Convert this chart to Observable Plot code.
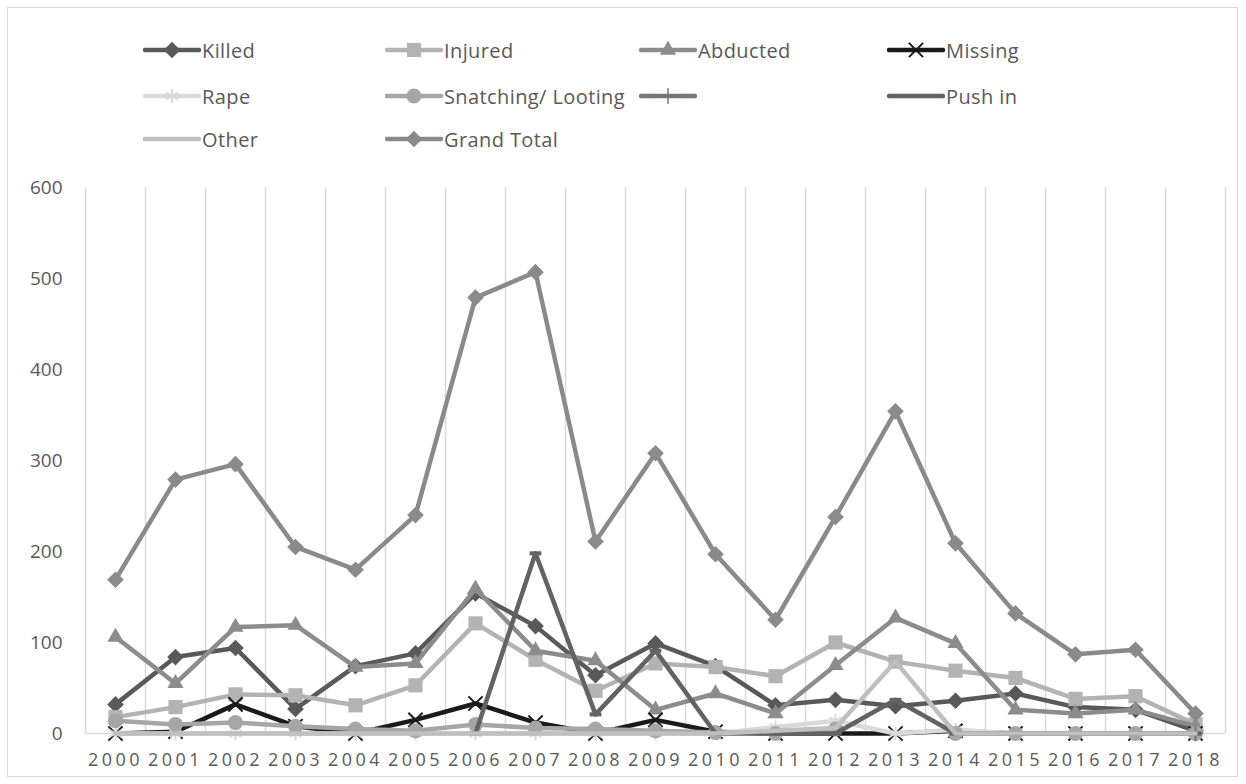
<!DOCTYPE html>
<html><head><meta charset="utf-8">
<script src="https://cdn.jsdelivr.net/npm/d3@7"></script>
<script src="https://cdn.jsdelivr.net/npm/@observablehq/plot@0.6"></script>
<style>
html,body{margin:0;padding:0;background:#fff;}
body{width:1246px;height:784px;position:relative;overflow:hidden;font-family:"Open Sans",sans-serif;}
#frame{position:absolute;left:7px;top:7px;width:1231px;height:770px;border:1px solid #d9d9d9;box-sizing:border-box;}
#legend{position:absolute;left:0;top:0;width:1246px;height:160px;}
.item{position:absolute;display:flex;align-items:center;height:26px;font-size:20px;letter-spacing:0.4px;color:#595959;white-space:nowrap;}
.item svg{display:block;margin-right:1px;}
#chart{position:absolute;left:0;top:160px;}
#chart g[aria-label="x-axis tick label"] text{letter-spacing:3.5px;}
</style></head><body>
<div id="frame"></div>
<div id="legend"></div>
<div id="chart"></div>
<script>
const years = [2000,2001,2002,2003,2004,2005,2006,2007,2008,2009,2010,2011,2012,2013,2014,2015,2016,2017,2018];
const killed    = [32, 84, 94, 27, 74, 88, 154, 118, 64, 99, 74, 31, 37, 30, 36, 44, 29, 26, 3];
const injured   = [18, 29, 43, 42, 31, 53, 121, 81, 47, 77, 73, 63, 100, 79, 69, 61, 38, 41, 10];
const abducted  = [106, 55, 117, 119, 73, 77, 159, 91, 80, 26, 44, 22, 75, 127, 99, 26, 22, 26, 8];
const missing   = [0, 2, 32, 8, 0, 15, 33, 12, 0, 15, 2, 0, 0, 0, 3, 0, 0, 0, 0];
const rape      = [0, 0, 0, 0, 0, 0, 0, 0, 0, 0, 0, 7, 14, 0, 4, 0, 0, 0, 0];
const snatching = [14, 10, 12, 8, 5, 3, 10, 6, 5, 3, 1, 0, 5, null, 0, 0, 0, 0, 0];
const unnamed   = [null, null, null, null, null, null, null, null, null, null, null, null, null, null, null, null, null, null, 0];
const pushIn    = [null, null, null, null, null, null, 0, 198, 21, 91, 0, 0, 0, 37, 0, 0, 0, 0, 0];
const other     = [0, 0, 0, 0, 0, 0, 0, 0, 0, 0, 0, 3, 6, 79, 0, 0, 0, 0, 0];
const grandTotal= [169, 279, 296, 205, 180, 240, 479, 507, 211, 308, 197, 125, 238, 354, 209, 132, 87, 92, 22];
const yTicks = [0, 100, 200, 300, 400, 500, 600];

const dash = {draw(ctx, size){ const w = Math.sqrt(size) * 0.95, h = 4; ctx.rect(-w/2, -h/2, w, h); }};

const series = [
  {name: "Killed", values: killed, color: "#595959", symbol: d3.symbolDiamond2, r: 7.5, filled: true},
  {name: "Injured", values: injured, color: "#b3b3b3", symbol: d3.symbolSquare, r: 8, filled: true},
  {name: "Abducted", values: abducted, color: "#8c8c8c", symbol: d3.symbolTriangle, r: 6, filled: true},
  {name: "Missing", values: missing, color: "#1a1a1a", symbol: d3.symbolTimes, r: 6.5, filled: false},
  {name: "Rape", values: rape, color: "#d9d9d9", symbol: d3.symbolAsterisk, r: 6.5, filled: false},
  {name: "Snatching/ Looting", values: snatching, color: "#a6a6a6", symbol: d3.symbolCircle, r: 7.5, filled: true},
  {name: "", values: unnamed, color: "#767676", symbol: d3.symbolPlus, r: 5, filled: false},
  {name: "Push in", values: pushIn, color: "#636363", symbol: dash, r: 7, filled: true},
  {name: "Other", values: other, color: "#bfbfbf", symbol: null},
  {name: "Grand Total", values: grandTotal, color: "#8a8a8a", symbol: d3.symbolDiamond2, r: 7.5, filled: true}
];

const rows = series.flatMap((s, k) => years.map((yr, i) => ({series: s.name, k, year: yr, value: s.values[i]})));
const edges = [years[0] - 0.5, ...years.map(y => y + 0.5)];

const marks = [
  Plot.ruleX(edges, {stroke: "#d9d9d9", strokeWidth: 1.5}),
  Plot.ruleY([0], {stroke: "#d9d9d9", strokeWidth: 1.5}),
  Plot.axisX({ticks: years, tickFormat: d => String(d), tickSize: 0, tickPadding: 20, fill: "#595959", fontSize: 18, label: null}),
  Plot.axisY({ticks: yTicks, tickSize: 0, tickPadding: 23, fill: "#595959", fontSize: 19, label: null})
];
series.forEach((s, k) => {
  const data = rows.filter(d => d.k === k);
  marks.push(Plot.line(data, {x: "year", y: "value", stroke: s.color, strokeWidth: 4.5, strokeLinejoin: "round", strokeLinecap: "round"}));
  if (s.symbol) {
    const pts = data.filter(d => d.value != null);
    marks.push(Plot.dot(pts, {x: "year", y: "value", symbol: () => s.symbol, r: s.r,
      fill: s.filled ? s.color : "none", stroke: s.filled ? "none" : s.color, strokeWidth: s.filled ? 0 : 2}));
  }
});

const chart = Plot.plot({
  width: 1246, height: 615,
  marginTop: 27, marginBottom: 42, marginLeft: 85, marginRight: 21,
  x: {type: "linear", domain: [edges[0], edges[edges.length - 1]], axis: null, label: null},
  y: {domain: [0, 600], axis: null, label: null},
  symbol: {type: "identity"},
  style: {fontFamily: "'Open Sans', sans-serif", fontSize: "19px", color: "#595959", background: "transparent"},
  marks
});
document.getElementById("chart").appendChild(chart);

// Legend
const cols = [143, 385, 639, 887];
const rowsY = [50, 96, 139];
const leg = d3.select("#legend");
series.forEach((s, i) => {
  const c = i % 4, rr = Math.floor(i / 4);
  const it = leg.append("div").attr("class", "item").style("left", cols[c] + "px").style("top", (rowsY[rr] - 13) + "px");
  const sv = it.append("svg").attr("width", 58).attr("height", 26);
  sv.append("line").attr("x1", 2).attr("x2", 56).attr("y1", 13).attr("y2", 13)
    .attr("stroke", s.color).attr("stroke-width", 4.5).attr("stroke-linecap", "round");
  if (s.symbol) {
    const p = sv.append("path").attr("transform", "translate(29,13)")
      .attr("d", d3.symbol(s.symbol, Math.PI * s.r * s.r)());
    if (s.filled) p.attr("fill", s.color);
    else p.attr("fill", "none").attr("stroke", s.color).attr("stroke-width", s.symbol === d3.symbolPlus ? 1.5 : 2);
  }
  it.append("span").text(s.name);
});
</script>
</body></html>
